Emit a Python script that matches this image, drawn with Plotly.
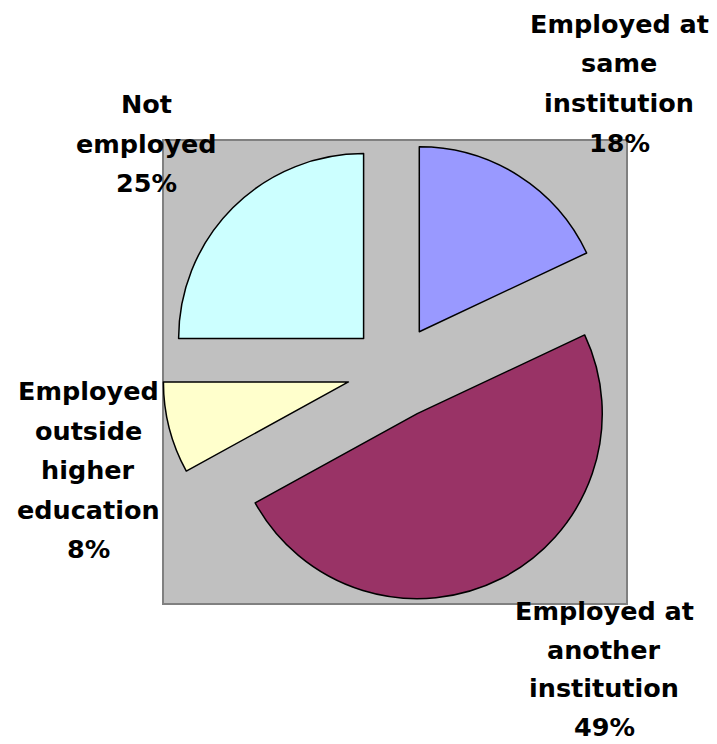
import plotly.graph_objects as go

# ---- data ----
categories = ["Employed at same institution", "Employed at another institution",
              "Employed outside higher education", "Not employed"]
values = [18, 49, 8, 25]
label_lines = [["Employed at", "same", "institution"],
               ["Employed at", "another", "institution"],
               ["Employed", "outside", "higher", "education"],
               ["Not", "employed"]]
colors = ["#9999FF", "#993366", "#FFFFCC", "#CCFFFF"]
pulls = [0.245, 0.265, 0.26, 0.24]

W, H = 717, 744
# pie geometry (pixels)
cx, cy, r = 395, 370, 185
half = r * (1 + max(pulls))

def px(x):
    return x / W

def py(y):
    return 1 - y / H

fig = go.Figure()
fig.add_trace(go.Pie(
    labels=categories, values=values, sort=False, direction="clockwise",
    rotation=0, pull=pulls, textinfo="none", hoverinfo="label+percent",
    marker=dict(colors=colors, line=dict(color="black", width=1.5)),
    domain=dict(x=[px(cx - half), px(cx + half)], y=[py(cy + half), py(cy - half)]),
    showlegend=False,
))

# grey plot area
fig.add_shape(type="rect", xref="paper", yref="paper",
              x0=px(163), x1=px(627), y0=py(604), y1=py(140),
              fillcolor="#C0C0C0", line=dict(color="#808080", width=2), layer="below")

# label anchors: centre x, first baseline y, line gap (pixels)
label_pos = [(619, 33, 39.5), (604, 620, 38.5), (88, 400, 39.5), (146, 113, 39.5)]
annotations = []
for lines, v, (lx, ly, gap) in zip(label_lines, values, label_pos):
    all_lines = lines + [f"{v}%"]
    for i, t in enumerate(all_lines):
        base = ly + i * gap
        annotations.append(dict(
            x=px(lx), y=py(base - 9), xref="paper", yref="paper",
            text=t, showarrow=False, xanchor="center", yanchor="middle",
            font=dict(family="DejaVu Sans", size=25.5, color="black", weight="bold"),
        ))

fig.update_layout(
    width=W, height=H, margin=dict(l=0, r=0, t=0, b=0),
    paper_bgcolor="white", plot_bgcolor="white",
    annotations=annotations,
)
fig.write_html("out.html", config={"displayModeBar": False},
               post_script="document.body.style.margin='0';document.body.style.overflow='hidden';")
